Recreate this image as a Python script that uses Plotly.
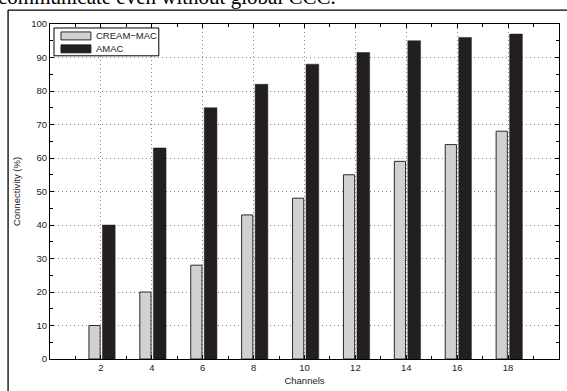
import plotly.graph_objects as go

channels = [2, 4, 6, 8, 10, 12, 14, 16, 18]
cream_mac = [10, 20, 28, 43, 48, 55, 59, 64, 68]
amac = [40, 63, 75, 82, 88, 91.5, 95, 96, 97]
series_names = ["CREAM\u2212MAC", "AMAC"]
x_title = "Channels"
y_title = "Connectivity (%)"
header_text = "communicate even without global CCC."

W, H = 567, 391
L, R, T, B = 50, 7, 24, 30
pw, ph = W - L - R, H - T - B

def px_x(p):
    return (p - L) / pw

def px_y(p):
    return 1 - (p - T) / ph

light = "#d1d1d3"
dark = "#231f20"
font_sans = "Liberation Sans, Arial, sans-serif"

fig = go.Figure()
fig.add_trace(go.Bar(x=channels, y=cream_mac, name=series_names[0], width=0.44, offset=-0.47,
                     marker=dict(color=light, line=dict(color="#2a2a2a", width=1))))
fig.add_trace(go.Bar(x=channels, y=amac, name=series_names[1], width=0.5, offset=0.06,
                     marker=dict(color=dark, line=dict(color=dark, width=0.5))))

axis_common = dict(showline=True, linecolor="black", linewidth=1, mirror="ticks",
                   ticks="inside", ticklen=4, tickcolor="black", zeroline=False,
                   showgrid=True, gridcolor="#8a8a8a", griddash="1px,3px", gridwidth=1,
                   tickfont=dict(family=font_sans, size=9.5, color="#222"))

fig.update_layout(
    width=W, height=H, margin=dict(l=L, r=R, t=T, b=B),
    paper_bgcolor="white", plot_bgcolor="white",
    barmode="overlay", showlegend=False,
    xaxis=dict(range=[0, 20], tickvals=channels, ticktext=[str(c) for c in channels],
               minor=dict(dtick=1, tick0=0, ticks="inside", ticklen=3, tickcolor="black", showgrid=False),
               title=dict(text=x_title, font=dict(family=font_sans, size=9.5, color="#222"), standoff=4),
               **axis_common),
    yaxis=dict(range=[0, 100], dtick=10,
               minor=dict(dtick=5, ticks="inside", ticklen=3, tickcolor="black", showgrid=False),
               title=dict(text=y_title, font=dict(family=font_sans, size=9.5, color="#222"), standoff=8),
               **axis_common),
)

# legend drawn manually to match the MATLAB look
lx0, lx1, ly0, ly1 = 54, 159, 28, 56
fig.add_shape(type="rect", xref="paper", yref="paper",
              x0=px_x(lx0), x1=px_x(lx1), y0=px_y(ly1), y1=px_y(ly0),
              line=dict(color="black", width=1), fillcolor="white", layer="above")
for i, (nm, col) in enumerate(zip(series_names, [light, dark])):
    yc = 36 + i * 13
    fig.add_shape(type="rect", xref="paper", yref="paper",
                  x0=px_x(61), x1=px_x(91), y0=px_y(yc + 4), y1=px_y(yc - 4),
                  line=dict(color="#2a2a2a" if i == 0 else dark, width=1), fillcolor=col, layer="above")
    fig.add_annotation(xref="paper", yref="paper", x=px_x(94), y=px_y(yc), text=nm,
                       showarrow=False, xanchor="left", yanchor="middle",
                       font=dict(family=font_sans, size=9.5, color="#222"))

# outer figure frame (page crop)
fig.add_shape(type="line", xref="paper", yref="paper",
              x0=px_x(8), x1=px_x(8), y0=px_y(10), y1=px_y(400),
              line=dict(color="black", width=1.3))
fig.add_shape(type="line", xref="paper", yref="paper",
              x0=px_x(8), x1=px_x(600), y0=px_y(10), y1=px_y(10),
              line=dict(color="black", width=1.3))

# partial header text from the page
fig.add_annotation(xref="paper", yref="paper", x=px_x(-4), y=px_y(11), text=header_text,
                   showarrow=False, xanchor="left", yanchor="bottom",
                   font=dict(family="Liberation Serif, Times New Roman, serif", size=21, color="black"))

fig.write_html("out.html", config={"displayModeBar": False},
               post_script="document.body.style.margin='0';document.body.style.overflow='hidden';")
